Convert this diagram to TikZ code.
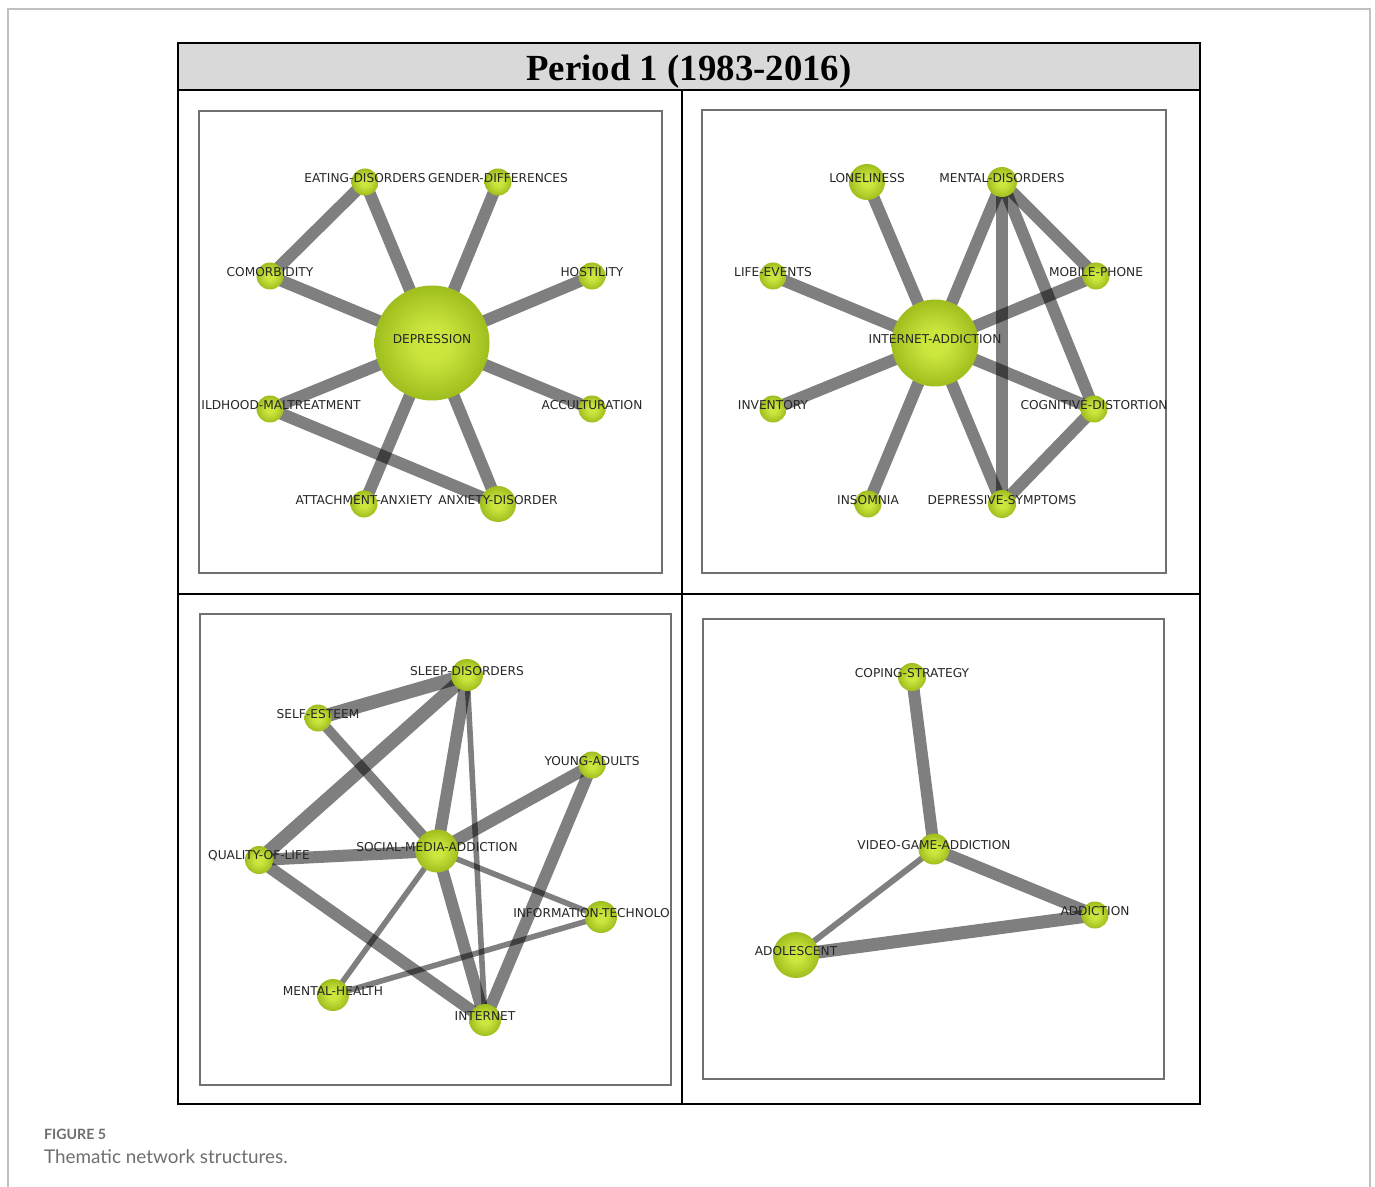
\documentclass[tikz,border=0pt]{standalone}
\usepackage{fontspec}
\newfontfamily\labfont{DejaVu Sans}
\newfontfamily\headfont{Liberation Serif}
\newfontfamily\capfont{Lato}
\usetikzlibrary{calc,positioning}

\definecolor{limeA}{RGB}{204,230,62}
\definecolor{limeB}{RGB}{156,188,28}
\definecolor{limeC}{RGB}{84,110,8}
\definecolor{headgray}{RGB}{217,217,217}
\definecolor{panelgray}{RGB}{112,112,112}
\definecolor{pagegray}{RGB}{192,192,192}
\definecolor{capgray}{RGB}{110,110,110}
\pgfdeclareradialshading{sphere}{\pgfpoint{0bp}{0bp}}{color(0bp)=(limeA);color(7bp)=(limeA);color(26bp)=(limeB);color(35bp)=(limeC);color(50bp)=(limeC)}
\pgfdeclarelayer{edges}
\pgfsetlayers{edges,main}

\tikzset{
  ball/.style={circle,inner sep=0pt,shading=sphere,minimum size=#1},
  ball/.default=13.5pt,
  lbl/.style={font=\labfont\fontsize{6.1}{7}\selectfont,text=black!85,inner sep=0pt,yshift=2pt},
  edge/.style={line width=#1,draw=black,draw opacity=0.5},
  edge/.default=6pt,
  panel/.style={draw=panelgray,line width=0.8pt}
}

\begin{document}
\begin{tikzpicture}[x=0.5pt,y=-0.5pt]
\useasboundingbox(0,0)rectangle(1375,1187);
\draw[pagegray,line width=1pt](8,1187)--(8,9)--(1370,9)--(1370,1187);
% header and grid
\filldraw[fill=headgray,draw=black,line width=0.8pt](178,43)rectangle(1200,90);
\node[font=\headfont\bfseries\fontsize{18.4}{20}\selectfont](head)at(689,72){Period 1 (1983-2016)};
\draw[line width=0.8pt](178,90)rectangle(1200,1104);
\draw[line width=0.8pt](178,594)--(1200,594)(682,90)--(682,1104);
\draw[panel](199,111)rectangle(662,573);
\draw[panel](702,110)rectangle(1166,573);
\draw[panel](200,614)rectangle(671,1085);
\draw[panel](703,619)rectangle(1164,1079);

% depression cluster
\node[ball=57.5pt,label={[lbl]center:DEPRESSION}](dep)at(432,343){};
\node[ball,label={[lbl]center:EATING-DISORDERS}](eat)at(365,182){};
\node[ball,label={[lbl]center:GENDER-DIFFERENCES}](gen)at(498,182){};
\node[ball,label={[lbl]center:COMORBIDITY}](com)at(270,276){};
\node[ball,label={[lbl]center:HOSTILITY}](hos)at(592,276){};
\node[ball](chi)at(270,409){};
\node[lbl,anchor=west](chi-l)at(201,409){ILDHOOD-MALTREATMENT};
\node[ball,label={[lbl]center:ACCULTURATION}](acc)at(592,409){};
\node[ball,label={[lbl]center:ATTACHMENT-ANXIETY}](att)at(364,504){};
\node[ball=18pt,label={[lbl]center:ANXIETY-DISORDER}](anx)at(498,504){};

% internet addiction cluster
\node[ball=43.5pt,label={[lbl]center:INTERNET-ADDICTION}](ia)at(935,343){};
\node[ball=18pt,label={[lbl]center:LONELINESS}](lon)at(867,182){};
\node[ball=15pt,label={[lbl]center:MENTAL-DISORDERS}](men)at(1002,182){};
\node[ball,label={[lbl]center:LIFE-EVENTS}](lif)at(773,276){};
\node[ball,label={[lbl]center:MOBILE-PHONE}](mob)at(1096,276){};
\node[ball,label={[lbl]center:INVENTORY}](inv)at(773,409){};
\node[ball,label={[lbl]center:COGNITIVE-DISTORTION}](cog)at(1094,409){};
\node[ball,label={[lbl]center:INSOMNIA}](ins)at(868,504){};
\node[ball=14pt,label={[lbl]center:DEPRESSIVE-SYMPTOMS}](dsy)at(1002,504){};

% social media cluster
\node[ball=21.5pt,label={[lbl]center:SOCIAL-MEDIA-ADDICTION}](sma)at(437,851){};
\node[ball=16pt,label={[lbl]center:SLEEP-DISORDERS}](sle)at(467,675){};
\node[ball,label={[lbl]center:SELF-ESTEEM}](sel)at(318,718){};
\node[ball,label={[lbl]center:YOUNG-ADULTS}](you)at(592,765){};
\node[ball=14pt,label={[lbl]center:QUALITY-OF-LIFE}](qol)at(259,860){};
\node[ball=16pt](inf)at(601,917){};
\node[lbl,anchor=east](inf-l)at(670,917){INFORMATION-TECHNOLO};
\node[ball=16pt,label={[lbl]center:MENTAL-HEALTH}](mhe)at(333,995){};
\node[ball=16pt,label={[lbl]center:INTERNET}](int)at(485,1020){};

% video game cluster
\node[ball=15.5pt,label={[lbl]center:VIDEO-GAME-ADDICTION}](vga)at(934,849){};
\node[ball=14pt,label={[lbl]center:COPING-STRATEGY}](cop)at(912,677){};
\node[ball,label={[lbl]center:ADDICTION}](add)at(1095,915){};
\node[ball=23pt,label={[lbl]center:ADOLESCENT}](ado)at(796,955){};

\begin{pgfonlayer}{edges}
\draw[edge](dep.center)--(eat.center);
\draw[edge](dep.center)--(gen.center);
\draw[edge](dep.center)--(com.center);
\draw[edge](dep.center)--(hos.center);
\draw[edge](dep.center)--(chi.center);
\draw[edge](dep.center)--(acc.center);
\draw[edge](dep.center)--(att.center);
\draw[edge](dep.center)--(anx.center);
\draw[edge](eat.center)--(com.center);
\draw[edge](chi.center)--(anx.center);

\draw[edge](ia.center)--(lon.center);
\draw[edge](ia.center)--(men.center);
\draw[edge](ia.center)--(lif.center);
\draw[edge](ia.center)--(mob.center);
\draw[edge](ia.center)--(inv.center);
\draw[edge](ia.center)--(cog.center);
\draw[edge](ia.center)--(ins.center);
\draw[edge](ia.center)--(dsy.center);
\draw[edge](men.center)--(mob.center);
\draw[edge](men.center)--(cog.center);
\draw[edge](men.center)--(dsy.center);
\draw[edge](cog.center)--(dsy.center);

\draw[edge=6.8pt](sle.center)--(sel.center);
\draw[edge=6.8pt](sle.center)--(qol.center);
\draw[edge](sle.center)--(sma.center);
\draw[edge=2.8pt](sle.center)--(int.center);
\draw[edge=5pt](sel.center)--(sma.center);
\draw[edge](qol.center)--(sma.center);
\draw[edge](qol.center)--(int.center);
\draw[edge](you.center)--(sma.center);
\draw[edge](you.center)--(int.center);
\draw[edge=2.8pt](sma.center)--(inf.center);
\draw[edge=2.8pt](sma.center)--(mhe.center);
\draw[edge](sma.center)--(int.center);
\draw[edge=2.8pt](mhe.center)--(inf.center);

\draw[edge](cop.center)--(vga.center);
\draw[edge](vga.center)--(add.center);
\draw[edge=3pt](vga.center)--(ado.center);
\draw[edge=6.5pt](ado.center)--(add.center);
\end{pgfonlayer}

% caption
\node[anchor=base west,font=\capfont\bfseries\fontsize{7.1}{9}\selectfont,text=capgray](fig)at(37,1139){FIGURE 5};
\node[anchor=base west,font=\capfont\fontsize{9.45}{11}\selectfont,text=capgray](cap)at(37,1163){Thematic network structures.};
\end{tikzpicture}
\end{document}
